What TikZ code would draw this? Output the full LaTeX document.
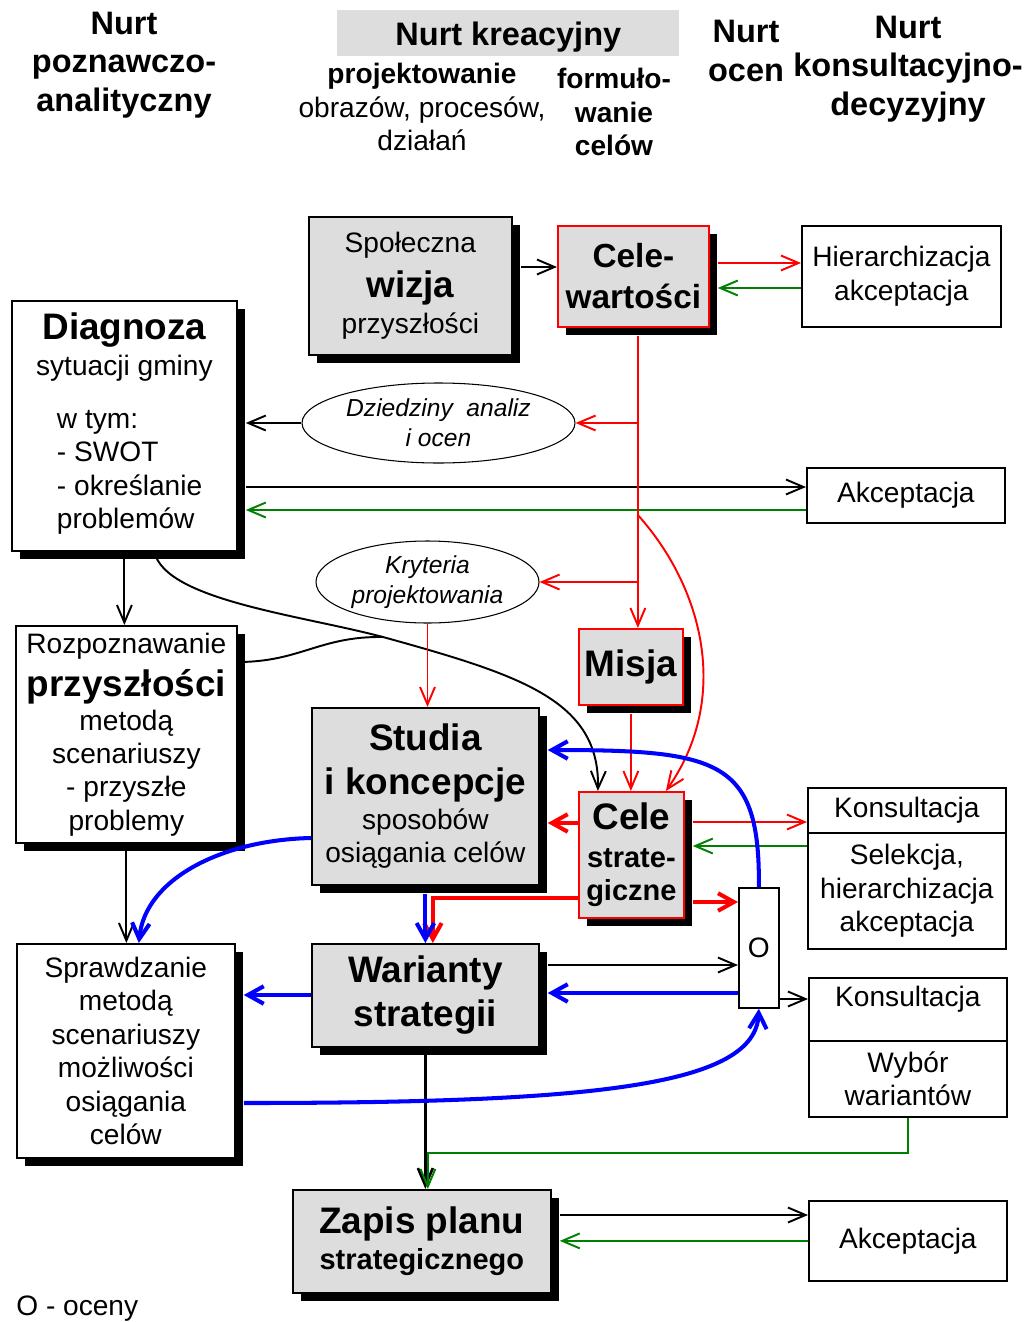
\documentclass[tikz,border=0pt]{standalone}
\usepackage{fontspec}
\setmainfont{Liberation Sans}
\usetikzlibrary{arrows.meta,shadows,shapes.geometric}

\definecolor{boxgray}{RGB}{221,221,221}
\definecolor{accgreen}{RGB}{0,128,0}
\newcommand\txtn{\fontsize{16}{19}\selectfont\mdseries\upshape}
\newcommand\txtb{\fontsize{21}{24}\selectfont\bfseries}
\newcommand\txtc{\fontsize{19}{22}\selectfont\bfseries}
\newcommand\txtm{\fontsize{16.5}{19.5}\selectfont\bfseries}
\newcommand\txthead{\fontsize{18.5}{22}\selectfont\bfseries}
\newcommand\txtsub{\fontsize{16}{19}\selectfont\bfseries}
\newcommand\txtit{\fontsize{14}{17}\selectfont\itshape}

\begin{document}
\begin{tikzpicture}
    [ x=0.02cm, y=-0.02cm
    , box/.style={draw, fill=white, line width=1pt, inner sep=0pt, anchor=north west, align=center, font=\txtn}
    , dims/.style 2 args={minimum width=#1*0.02cm, minimum height=#2*0.02cm}
    , shaded/.style={fill=boxgray}
    , redframe/.style={draw=red}
    , shadowed/.style={drop shadow={opacity=1, fill=black, shadow xshift=0.16cm, shadow yshift=-0.16cm}}
    , oval/.style={ellipse, draw, line width=0.6pt, fill=white, inner sep=0pt, align=center, font=\txtit}
    , head/.style={align=center, font=\txthead}
    , conn/.style={line width=1.1pt, -{Straight Barb[length=10pt,width=8.5pt]}}
    , rconn/.style={conn, red}
    , gconn/.style={conn, accgreen}
    , heavy/.style={line width=2.3pt, -{Straight Barb[length=9pt,width=10pt]}}
    , rheavy/.style={heavy, red}
    , bheavy/.style={heavy, blue}
    , fromshadow/.style={shorten <=0.16cm}
    , toshadow/.style={shorten >=0.16cm}
    ]
    \useasboundingbox (0,0) rectangle (1031,1322);

    % column headings
    \node [head] (poz) at (124,65) {Nurt\\poznawczo-\\analityczny};
    \node [shaded, anchor=north west, inner sep=0pt, dims={342}{46}, font=\txthead, text depth=0pt] (kre) at (337,10) {Nurt kreacyjny};
    \node [align=center, font=\txtn] (proj) at (422,107) {\txtsub projektowanie\\\txtn obrazów, procesów,\\\txtn działań};
    \node [align=center, font=\txtsub] (form) at (614,112) {formuło-\\wanie\\celów};
    \node [head] (ocen) at (746,51) {Nurt\\ocen};
    \node [head] (konsh) at (908,69) {Nurt\\konsultacyjno-\\decyzyjny};

    % boxes
    \node [box, shaded, shadowed, dims={203}{138}] (spol) at (308,216)
      {\txtn Społeczna\\[6.5pt]\txtb wizja\\[1.3pt]\txtn przyszłości};
    \node [box, shaded, redframe, shadowed, dims={151}{101}, font=\txtc] (cw) at (557,225)
      {Cele-\\[1.2pt]wartości};
    \node [box, dims={199}{101}] (hier) at (801,225) {Hierarchizacja\\akceptacja};
    \node [box, shadowed, dims={225}{250}] (diag) at (11,300)
      {\txtb Diagnoza\\[1.4pt]\txtn sytuacji gminy\\[11pt]\txtn\hspace{6pt}\begin{tabular}[t]{@{}l@{}}w tym:\\- SWOT\\- określanie\\problemów\end{tabular}};
    \node [oval, dims={273}{80}] (dz) at (438.5,423) {Dziedziny\ \ analiz\\i ocen};
    \node [box, dims={198}{55}] (akc1) at (806,467) {Akceptacja};
    \node [oval, dims={223}{82}] (kr) at (427.5,582) {Kryteria\\projektowania};
    \node [box, shaded, redframe, shadowed, dims={104}{76}, font=\txtb] (misja) at (578,628) {Misja};
    \node [box, shadowed, dims={221}{217}] (roz) at (15,625)
      {\txtn Rozpoznawanie\\[5.9pt]\txtb przyszłości\\\txtn metodą\\\txtn scenariuszy\\\txtn - przyszłe\\\txtn problemy};
    \node [box, shaded, shadowed, dims={227}{177}] (st) at (311,707)
      {\txtb Studia\\[5.9pt]\txtb i koncepcje\\[0.8pt]\txtn sposobów\\\txtn osiągania celów};
    \node [box, shaded, redframe, shadowed, dims={105}{126}] (cs) at (578,791)
      {\txtb Cele\\[2.1pt]\txtm strate-\\\txtm giczne};
    \node [box, dims={40}{120}] (o) at (738,887) {O};
    \node [box, dims={198}{45}] (kons1) at (807,787) {Konsultacja};
    \node [box, dims={198}{116}] (sel) at (807,832) {Selekcja,\\hierarchizacja\\akceptacja};
    \node [box, dims={198}{63}, text depth=15pt] (kons2) at (808,977) {Konsultacja};
    \node [box, dims={198}{76}] (wyb) at (808,1040) {Wybór\\wariantów};
    \node [box, shadowed, dims={218}{214}] (spr) at (16,943)
      {Sprawdzanie\\metodą\\scenariuszy\\możliwości\\osiągania\\celów};
    \node [box, shaded, shadowed, dims={227}{103}, font=\txtb] (wa) at (311,943) {Warianty\\[1pt]strategii};
    \node [box, shaded, shadowed, dims={258}{103}] (zp) at (292,1189)
      {\txtb Zapis planu\\[1.6pt]\txtm strategicznego};
    \node [box, dims={198}{80}] (akc2) at (808,1200) {Akceptacja};
    \node [anchor=base west, font=\txtn, inner sep=0pt] (legend) at (16,1315) {O - oceny};

    \coordinate (spine) at ([xshift=0.09cm]cw.south);

    % black and green links
    \draw [conn, fromshadow] (spol.east |- 0,267) -- (cw.west |- 0,267);
    \draw [gconn, toshadow] (hier.west |- 0,288) -- (cw.east |- 0,288);
    \draw [conn, toshadow] (dz.west) -- (dz.west -| diag.east);
    \draw [conn, fromshadow] (diag.east |- 0,487) -- (akc1.west |- 0,487);
    \draw [gconn, toshadow] (akc1.west |- 0,510) -- (diag.east |- 0,510);
    \draw [conn] (diag.south) -- (diag.south |- roz.north);
    \draw [conn] ([xshift=0.6cm]diag.south) .. controls (165,600) and (300,615) .. (383,637) coordinate (merge)
      .. controls (520,675) and (600,700) .. ([xshift=-0.67cm]cs.north);
    \draw [line width=1.1pt] (roz.east |- 0,662) .. controls (300,662) and (320,636) .. (merge);
    \draw [conn] (roz.south) -- (roz.south |- spr.north);
    \draw [gconn, toshadow] (sel.west |- 0,846) -- (cs.east |- 0,846);
    \draw [conn, fromshadow] (wa.east |- 0,965) -- (o.west |- 0,965);
    \draw [conn] (o.east |- 0,999) -- (kons2.west |- 0,999);
    \draw [conn, line width=1.5pt] (wa.south) -- (wa.south |- zp.north);
    \draw [gconn] (wyb.south) -- (wyb.south |- 0,1153) -| ([xshift=0.12cm]zp.north);
    \draw [conn, fromshadow] (zp.east |- 0,1215) -- (akc2.west |- 0,1215);
    \draw [gconn, toshadow] (akc2.west) -- (akc2.west -| zp.east);

    % red links
    \draw [rconn, fromshadow] (cw.east |- 0,263) -- (hier.west |- 0,263);
    \draw [rconn, fromshadow] (spine) -- (spine |- misja.north);
    \draw [rconn] (spine |- dz.east) -- (dz.east);
    \draw [rconn] (spine |- kr.east) -- (kr.east);
    \draw [rconn] (spine |- 0,515) .. controls (705,590) and (730,700) .. ([xshift=0.69cm]cs.north);
    \draw [rconn] (kr.south) -- (kr.south |- st.north);
    \draw [rconn, fromshadow] (misja.south) -- (misja.south |- cs.north);
    \draw [rconn, fromshadow] (cs.east |- 0,822) -- (kons1.west |- 0,822);
    \draw [rheavy, toshadow] (cs.west |- 0,823) -- (st.east |- 0,823);
    \draw [rheavy, fromshadow] (cs.east |- 0,902) -- (o.west |- 0,902);
    \draw [rheavy] (cs.west |- 0,898) -| ([xshift=0.15cm]wa.north);

    % blue links
    \draw [bheavy, fromshadow] (st.south) -- (wa.north);
    \draw [bheavy, toshadow] (o.north) .. controls (760,760) and (720,750) .. (st.east |- 0,750);
    \draw [bheavy] (st.west |- 0,838) .. controls (220,840) and (145,880) .. ([xshift=0.26cm]spr.north);
    \draw [bheavy, toshadow] (wa.west |- 0,995) -- (spr.east |- 0,995);
    \draw [bheavy, toshadow] (o.west |- 0,993) -- (wa.east |- 0,993);
    \draw [bheavy, fromshadow] (spr.east |- 0,1103) .. controls (600,1103) and (755,1085) .. (o.south);
\end{tikzpicture}
\end{document}
